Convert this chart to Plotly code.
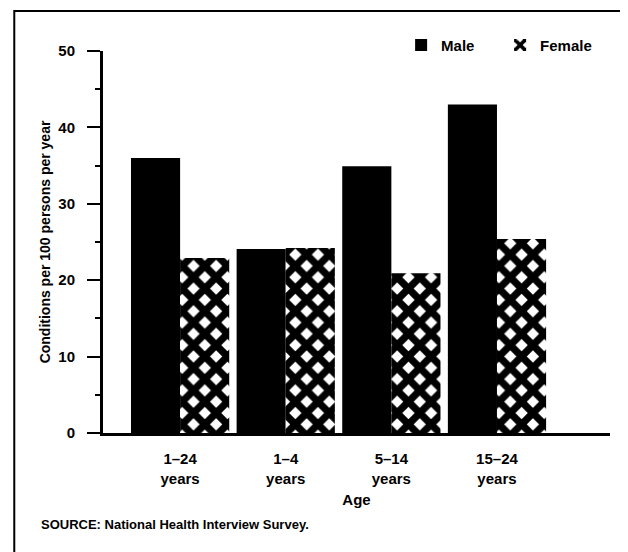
import plotly.graph_objects as go

# Data
age_groups = ["1–24<br>years", "1–4<br>years", "5–14<br>years", "15–24<br>years"]
male = [36.0, 24.1, 34.9, 43.0]
female = [22.9, 24.2, 20.9, 25.4]

font_main = "Liberation Sans, Arial, sans-serif"

fig = go.Figure()
fig.add_trace(go.Bar(x=age_groups, y=male, name="Male",
                     marker=dict(color="black", line=dict(width=0))))
fig.add_trace(go.Bar(x=age_groups, y=female, name="Female",
                     marker=dict(color="white", line=dict(width=0),
                                 pattern=dict(shape="x", fgcolor="black",
                                              bgcolor="white", fgopacity=1,
                                              size=16, solidity=0.7))))

# page body adds an 8px margin, so the figure is drawn 8px smaller
fig.update_layout(
    width=620, height=544,
    margin=dict(l=95, r=18, t=43, b=119, autoexpand=False),
    barmode="group", bargap=0.07, bargroupgap=0,
    plot_bgcolor="white", paper_bgcolor="white",
    font=dict(family=font_main, color="black", size=14),
    showlegend=True,
    legend=dict(orientation="h", x=0.588, xanchor="left", y=1.015, yanchor="middle",
                font=dict(size=15, family=font_main, weight="bold"),
                itemwidth=30, entrywidth=54, bgcolor="rgba(0,0,0,0)"),
    xaxis=dict(range=[-0.73, 4.07], showline=True, linecolor="black", linewidth=3,
               ticks="", tickfont=dict(size=15, weight="bold"), ticklabelstandoff=10,
               title=dict(text="Age", font=dict(size=15, weight="bold"), standoff=9)),
    yaxis=dict(range=[0, 50], tickvals=[0, 10, 20, 30, 40, 50], showline=True,
               linecolor="black", linewidth=3, ticks="outside", ticklen=13,
               tickwidth=2, tickcolor="black", showgrid=False, zeroline=False,
               tickfont=dict(size=15, weight="bold"), ticklabelstandoff=9,
               minor=dict(tickvals=[5, 15, 25, 35, 45], ticks="outside", ticklen=5,
                          tickwidth=2, tickcolor="black"),
               title=dict(text="Conditions per 100 persons per year",
                          font=dict(size=14, weight="bold"), standoff=5)),
    shapes=[dict(type="rect", xref="paper", yref="paper", x0=-0.175, x1=1.06,
                 y0=-0.36, y1=1.105, line=dict(color="black", width=2))],
    annotations=[dict(text="SOURCE: National Health Interview Survey.",
                      xref="paper", yref="paper", x=-0.126, y=-0.24,
                      xanchor="left", yanchor="middle", showarrow=False,
                      font=dict(size=13, weight="bold"))],
)

fig.write_html("out.html")
